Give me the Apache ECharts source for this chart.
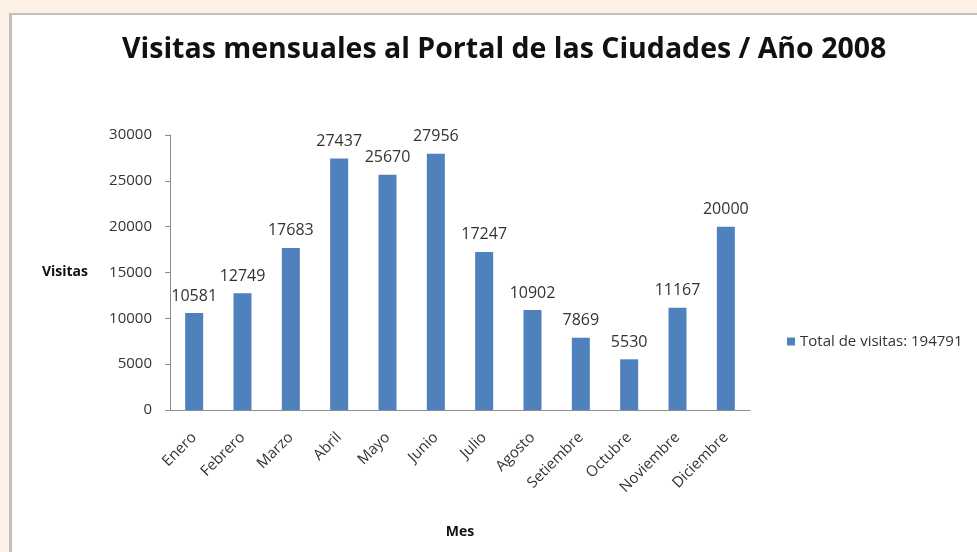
<!DOCTYPE html>
<html>
<head>
<meta charset="utf-8">
<title>Visitas mensuales</title>
<script src="https://cdn.jsdelivr.net/npm/echarts@6/dist/echarts.min.js"></script>
<style>
    html, body { margin: 0; padding: 0; background: #fdf1e6; }
    #panel {
        position: absolute; left: 9px; top: 13px; width: 980px; height: 560px;
        background: #fff; border-left: 3px solid #c4c0bc; border-top: 2px solid #c4c0bc;
    }
    #chart { position: absolute; left: 0; top: 0; width: 977px; height: 552px; }
</style>
</head>
<body>
<div id="panel"></div>
<div id="chart"></div>
<script>
// Monthly data
const months = ['Enero', 'Febrero', 'Marzo', 'Abril', 'Mayo', 'Junio', 'Julio',
    'Agosto', 'Setiembre', 'Octubre', 'Noviembre', 'Diciembre'];
const visits = [10581, 12749, 17683, 27437, 25670, 27956, 17247, 10902, 7869, 5530, 11167, 20000];
const seriesName = 'Total de visitas: 194791';

const textColor = '#333';
const fontFamily = '"Open Sans", sans-serif';

document.addEventListener('DOMContentLoaded', function() {
    const chart = echarts.init(document.getElementById('chart'));
    chart.setOption({
        animation: false,
        title: {
            text: 'Visitas mensuales al Portal de las Ciudades / Año 2008',
            left: 117,
            top: 30,
            textStyle: { fontFamily: fontFamily, fontSize: 28.5, fontWeight: 'bold', color: '#111' }
        },
        legend: {
            left: 782,
            top: 329,
            orient: 'vertical',
            icon: 'rect',
            itemWidth: 8,
            itemHeight: 8,
            itemGap: 6,
            textStyle: { fontFamily: fontFamily, fontSize: 15, color: textColor }
        },
        grid: { left: 170, top: 135, right: 227, bottom: 142 },
        xAxis: {
            type: 'category',
            data: months,
            name: 'Mes',
            nameLocation: 'middle',
            nameGap: 115,
            nameTextStyle: { fontFamily: fontFamily, fontSize: 14, fontWeight: 'bold', color: '#111' },
            axisLine: { lineStyle: { color: '#8c8c8c' } },
            axisTick: { length: 5, lineStyle: { color: '#8c8c8c' } },
            axisLabel: { rotate: 45, fontFamily: fontFamily, fontSize: 15, color: textColor, margin: 25 }
        },
        yAxis: {
            type: 'value',
            min: 0,
            max: 30000,
            interval: 5000,
            name: 'Visitas',
            nameLocation: 'middle',
            nameRotate: 0,
            nameGap: 82,
            nameTextStyle: { fontFamily: fontFamily, fontSize: 14, fontWeight: 'bold', color: '#111' },
            splitLine: { show: false },
            axisLine: { show: true, lineStyle: { color: '#8c8c8c' } },
            axisTick: { show: true, length: 5, lineStyle: { color: '#8c8c8c' } },
            axisLabel: {
                fontFamily: fontFamily, fontSize: 15, color: textColor, margin: 18,
                formatter: function(v) { return String(v); }
            }
        },
        series: [{
            name: seriesName,
            type: 'bar',
            data: visits,
            barWidth: 18,
            itemStyle: { color: '#4f81bd' },
            label: {
                show: true,
                position: 'top',
                distance: 9,
                fontFamily: fontFamily,
                fontSize: 16,
                color: textColor
            }
        }]
    });
});
</script>
</body>
</html>
